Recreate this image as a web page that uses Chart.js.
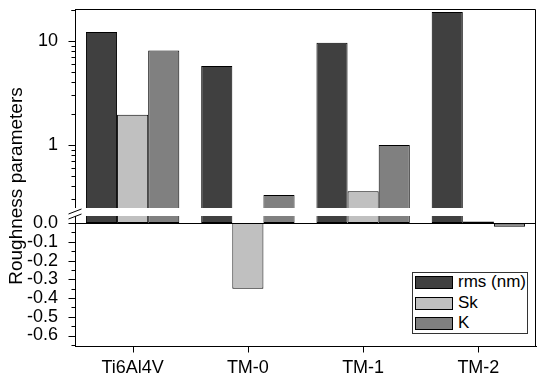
<!DOCTYPE html>
<html><head><meta charset="utf-8">
<script src="https://cdn.jsdelivr.net/npm/chart.js@4.4.1/dist/chart.umd.min.js"></script>
<style>
html,body{margin:0;padding:0;background:#fff;}
#wrap{position:relative;width:550px;height:382px;}
#legend{position:absolute;left:412px;top:272px;width:114px;height:60px;border:1px solid #333;background:#fff;font:17px 'Liberation Sans',Arial,sans-serif;color:#000;}
.item{position:absolute;left:2px;height:13px;}
.sw{position:absolute;left:0;top:0;width:36px;height:11px;border:1px solid #000;}
.lab{position:absolute;left:43px;top:-3px;line-height:17px;white-space:nowrap;}
</style></head>
<body><div id="wrap"><canvas id="c" width="550" height="382"></canvas><div id="legend"></div></div>
<script>
// ---- data ----
const categories = ['Ti6Al4V', 'TM-0', 'TM-1', 'TM-2'];
const seriesNames = ['rms (nm)', 'Sk', 'K'];
const rmsValues = [12.2, 5.75, 9.6, 19.0];
const skValues = [1.95, -0.35, 0.36, 0.008];
const kValues = [8.1, 0.33, 1.0, -0.02];
const seriesColors = ['#404040', '#c0c0c0', '#808080'];
const topTickLabels = [1, 10];
const bottomTickLabels = [0, -0.1, -0.2, -0.3, -0.4, -0.5, -0.6];
const yTitle = 'Roughness parameters';

const FONT = "'Liberation Sans', Arial, sans-serif";
const TOP_MIN = 0.2077, TOP_MAX = 20.3;
const BOT_MIN = -0.656, BOT_MAX = 0.038;
const GAP = 8;

const seriesValues = [rmsValues, skValues, kValues];
const datasets = [];
['yTop', 'yBot'].forEach(axis => {
  seriesValues.forEach((vals, i) => {
    datasets.push({
      label: seriesNames[i], data: vals, yAxisID: axis, stack: 's' + i,
      backgroundColor: seriesColors[i], borderColor: '#000', borderWidth: 1,
      borderSkipped: false, categoryPercentage: 0.81, barPercentage: 1
    });
  });
});

// legend (HTML)
const lg = document.getElementById('legend');
seriesNames.forEach((n, i) => {
  const it = document.createElement('div');
  it.className = 'item'; it.style.top = (3 + i * 20.7) + 'px';
  it.innerHTML = '<div class="sw" style="background:' + seriesColors[i] + '"></div><div class="lab"></div>';
  it.querySelector('.lab').textContent = n;
  lg.appendChild(it);
});

const near = (a, b) => Math.abs(a - b) < 1e-9;

const clipPlugin = {
  id: 'clipAxis',
  beforeDatasetDraw(chart, args) {
    const ys = chart.scales[args.meta.yAxisID];
    const a = chart.chartArea, ctx = chart.ctx;
    ctx.save(); ctx.beginPath();
    ctx.rect(a.left, ys.top, a.right - a.left, ys.bottom - ys.top);
    ctx.clip();
  },
  afterDatasetDraw(chart) { chart.ctx.restore(); }
};

const decoPlugin = {
  id: 'deco',
  afterDatasetsDraw(chart) {
    const ctx = chart.ctx, a = chart.chartArea;
    const yT = chart.scales.yTop, yB = chart.scales.yBot, xs = chart.scales.x;
    const joinY = yT.bottom;
    ctx.save();
    // break band
    ctx.fillStyle = '#fff';
    ctx.fillRect(a.left - 9, joinY - GAP, a.right - a.left + 9, GAP);
    ctx.strokeStyle = '#000'; ctx.lineWidth = 1;
    const line = (x1, y1, x2, y2) => { ctx.beginPath(); ctx.moveTo(x1, y1); ctx.lineTo(x2, y2); ctx.stroke(); };
    const L = Math.round(a.left) + 0.5;
    // top axis ticks
    yT.ticks.forEach(t => {
      const y = Math.round(yT.getPixelForValue(t.value)) + 0.5;
      if (y > joinY - GAP) return;
      const major = topTickLabels.some(v => near(v, t.value));
      line(L - (major ? 7 : 4), y, L, y);
    });
    // bottom axis ticks
    yB.ticks.forEach(t => {
      const y = Math.round(yB.getPixelForValue(t.value)) + 0.5;
      const major = bottomTickLabels.some(v => Math.abs(v - t.value) < 1e-6);
      line(L - (major ? 7 : 4), y, L, y);
    });
    // x ticks
    const B = Math.round(a.bottom) + 0.5;
    categories.forEach((c, i) => {
      const x = Math.round(xs.getPixelForValue(i)) + 0.5;
      line(x, B, x, B + 6);
    });
    // zero line
    const zy = Math.round(yB.getPixelForValue(0)) + 0.5;
    line(a.left, zy, a.right, zy);
    // top and right borders
    const T = Math.round(a.top) + 0.5, R = Math.round(a.right) - 0.5;
    line(L, T, R, T);
    line(R, T, R, B);
    // break slashes
    line(L - 7, joinY - 2, L + 6, joinY - 7);
    line(L - 7, joinY + 3, L + 6, joinY - 2);
    ctx.restore();
  },
  afterDraw(chart) {
    const ctx = chart.ctx;
    ctx.save();
    ctx.translate(17, 186);
    ctx.rotate(-Math.PI / 2);
    ctx.fillStyle = '#000';
    ctx.font = '19px ' + FONT;
    ctx.textAlign = 'center'; ctx.textBaseline = 'middle';
    ctx.fillText(yTitle, 0, 0);
    ctx.restore();
  }
};

const tickFont = { family: FONT, size: 18 };

new Chart(document.getElementById('c'), {
  type: 'bar',
  data: { labels: categories, datasets },
  options: {
    responsive: false, animation: false, devicePixelRatio: 1,
    layout: { padding: { left: 0, right: 14, top: 9, bottom: 0 } },
    plugins: { legend: { display: false }, tooltip: { enabled: false } },
    scales: {
      x: {
        grid: { display: false, offset: false },
        border: { color: '#000', width: 1 },
        ticks: { color: '#000', font: tickFont, padding: 3, maxRotation: 0, autoSkip: false },
        afterFit(s) { s.height = 36; }
      },
      yBot: {
        type: 'linear', position: 'left', stack: 'y', stackWeight: 130,
        min: BOT_MIN, max: BOT_MAX, stacked: false,
        grid: { display: false },
        border: { color: '#000', width: 1 },
        afterBuildTicks(s) {
          const t = [];
          for (let k = -13; k <= 0; k++) t.push({ value: k * 0.05 });
          s.ticks = t;
        },
        ticks: {
          color: '#000', font: tickFont, padding: 9, autoSkip: false,
          callback(v) {
            const m = bottomTickLabels.find(b => Math.abs(b - v) < 1e-6);
            return m === undefined ? '' : m.toFixed(1);
          }
        },
        afterFit(s) { s.width = 75; s.paddingTop = 0; s.paddingBottom = 0; }
      },
      yTop: {
        type: 'logarithmic', position: 'left', stack: 'y', stackWeight: 207,
        min: TOP_MIN, max: TOP_MAX, stacked: false,
        grid: { display: false },
        border: { color: '#000', width: 1 },
        afterBuildTicks(s) {
          const t = [];
          for (let d = 0.1; d <= 10; d *= 10) for (let m = 1; m <= 9; m++) {
            const v = +(m * d).toPrecision(3);
            if (v >= TOP_MIN && v <= TOP_MAX) t.push({ value: v });
          }
          t.push({ value: 20 });
          s.ticks = t;
        },
        ticks: {
          color: '#000', font: tickFont, padding: 9, autoSkip: false,
          callback(v) { const m = topTickLabels.find(b => near(b, v)); return m === undefined ? '' : String(m); }
        },
        afterFit(s) { s.width = 75; s.paddingTop = 0; s.paddingBottom = 0; }
      }
    }
  },
  plugins: [clipPlugin, decoPlugin]
});
</script>
</body></html>
